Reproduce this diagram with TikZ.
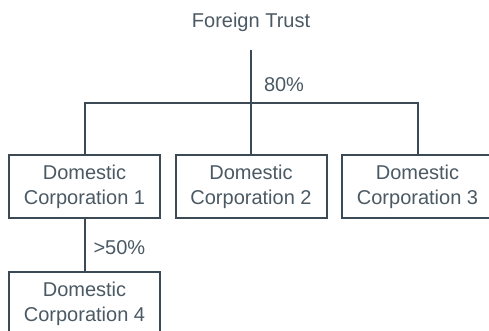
\documentclass[tikz,border=0pt]{standalone}
\usepackage{xcolor}
\usepackage{fontspec}
\setmainfont{Liberation Sans}
\usepackage{tikz}
\definecolor{slate}{HTML}{3B4A54}
\definecolor{slatetext}{HTML}{4A5963}
\tikzset{
  corp/.style={draw=slate, rectangle, line width=2pt, minimum width=151pt, minimum height=63pt, inner sep=0pt, align=center, text=slatetext},
  link/.style={draw=slate, line width=2pt},
  pct/.style={text=slatetext, inner sep=0pt}
}

\begin{document}
\begin{tikzpicture}[x=1pt, y=-1pt, font=\fontsize{20}{25}\selectfont]
        \useasboundingbox (0,0) rectangle (489,330);
        \node[pct, anchor=base] (trust) at (251,27) {Foreign Trust};
        \node[corp] (corp1) at (84.5,186.5) {Domestic\\Corporation 1};
        \node[corp] (corp2) at (251,186.5) {Domestic\\Corporation 2};
        \node[corp] (corp3) at (417.5,186.5) {Domestic\\Corporation 3};
        \node[corp] (corp4) at (84.5,303.5) {Domestic\\Corporation 4};
        \coordinate (bar) at (251,103);
        
        \draw[link, shorten <=19pt] (trust) -- node[pct, right=12pt, pos=0.75] (own80) {80\%} (bar);
        \draw[link] (bar) -- (corp2);
        \draw[link] (corp1) |- (bar) -| (corp3);
        \draw[link] (corp1) -- node[pct, right=8pt, pos=0.55] (own50) {>50\%} (corp4);
    \end{tikzpicture}
\end{document}
